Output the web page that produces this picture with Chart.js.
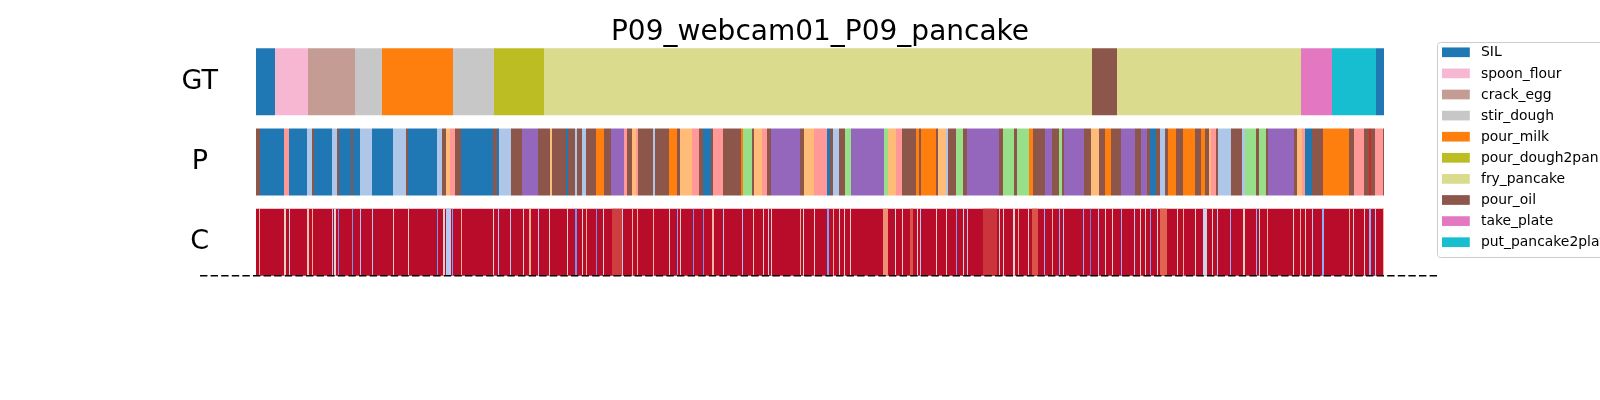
<!DOCTYPE html>
<html>
<head>
<meta charset="utf-8">
<title>P09_webcam01_P09_pancake</title>
<script src="https://cdn.jsdelivr.net/npm/chart.js@4.4.1/dist/chart.umd.min.js"></script>
<style>
  html, body { margin: 0; padding: 0; background: #fff; }
  #grafico { display: block; }
</style>
</head>
<body>
<canvas id="grafico" width="1600" height="400"></canvas>
<script>
// segmentacion del video: GT, prediccion (P) y confianza (C)

const titulo = 'P09_webcam01_P09_pancake';
const filas = ['GT', 'P', 'C'];
const totalFrames = 1128;

// clases de la leyenda (las del GT)
const clases = ['SIL', 'spoon_flour', 'crack_egg', 'stir_dough', 'pour_milk',
  'pour_dough2pan', 'fry_pancake', 'pour_oil', 'take_plate', 'put_pancake2plate'];
const coloresClases = ['#1f77b4', '#f7b6d2', '#c49c94', '#c7c7c7', '#ff7f0e',
  '#bcbd22', '#dbdb8d', '#8c564b', '#e377c2', '#17becf'];

// clases que solo aparecen en la prediccion (no salen en la leyenda)
const clasesExtra = ['otra_1', 'otra_2', 'otra_3', 'otra_4', 'otra_5', 'otra_6'];
const coloresExtra = ['#aec7e8', '#ff9896', '#ffbb78', '#9467bd', '#98df8a', '#d62728'];

// GT: etiqueta y frame final de cada segmento
const gtEtiquetas = ['SIL', 'spoon_flour', 'crack_egg', 'stir_dough', 'pour_milk', 'stir_dough',
  'pour_dough2pan', 'fry_pancake', 'pour_oil', 'fry_pancake', 'take_plate', 'put_pancake2plate', 'SIL'];
const gtFin = [19, 52, 99, 126, 197, 238, 288, 836, 861, 1045, 1076, 1120, 1128];

// P: codigos cortos -> clase
const codigos = { S: 'SIL', O: 'pour_oil', M: 'pour_milk', b: 'otra_1', r: 'otra_2',
  o: 'otra_3', p: 'otra_4', g: 'otra_5', R: 'otra_6' };
const pCodigos = ('OSrSbOSbOS' + 'OSbSbOSbOo' + 'rOSOSbOpOo' + 'OSObObOMOp' + 'rOorObOMOo' +
  'rOSOrOMgOo' + 'rOpOorSObO' + 'gpgorOMOMO' + 'obOgOpOgOg' + 'MOpOgOpOoO' +
  'MOpOpOSObO' + 'MOMOMOorOb' + 'ObgOgOpOor' + 'SOMOrOROrO').split('');
const pFin = [4, 28, 33, 51, 56, 58, 76, 81, 83, 95,
  97, 104, 116, 137, 150, 152, 181, 186, 190, 194,
  199, 205, 237, 241, 243, 255, 266, 282, 294, 296,
  310, 312, 319, 321, 326, 330, 340, 348, 355, 368,
  371, 376, 380, 382, 397, 399, 413, 421, 424, 436,
  443, 447, 455, 457, 467, 485, 487, 496, 498, 506,
  511, 515, 544, 548, 558, 571, 574, 577, 583, 589,
  595, 628, 632, 640, 646, 660, 663, 665, 680, 682,
  690, 692, 700, 707, 711, 743, 747, 758, 761, 773,
  777, 789, 796, 803, 806, 808, 828, 835, 843, 849,
  855, 865, 879, 885, 891, 894, 900, 904, 909, 912,
  920, 927, 939, 945, 949, 953, 955, 960, 962, 975,
  986, 989, 1000, 1003, 1010, 1012, 1038, 1041, 1046, 1049,
  1056, 1067, 1093, 1098, 1108, 1113, 1115, 1119, 1127, 1128];

// C: confianza base y caidas (inicio, fin, valor)
const confBase = 0.99;
const cInicio = [3, 28, 33, 51, 56, 76, 78, 82, 96, 104, 116, 137, 152, 181, 187, 190, 196, 205, 237, 242,
  254, 267, 273, 282, 293, 311, 319, 326, 330, 340, 347, 356, 366, 376, 381, 397, 413, 421, 424, 437,
  447, 456, 467, 486, 497, 507, 512, 515, 544, 547, 558, 571, 577, 583, 588, 594, 627, 639, 646, 654,
  661, 664, 680, 690, 700, 707, 711, 727, 743, 747, 757, 762, 772, 776, 788, 796, 803, 807, 827, 834,
  842, 849, 856, 865, 878, 884, 889, 894, 901, 904, 921, 927, 939, 947, 956, 961, 974, 987, 1000, 1003,
  1011, 1037, 1044, 1049, 1056, 1066, 1093, 1097, 1108, 1113, 1119, 1127];
const cFin = [4, 30, 34, 53, 57, 77, 80, 83, 97, 105, 117, 138, 153, 182, 189, 195, 197, 206, 238, 243,
  255, 268, 275, 283, 294, 312, 321, 327, 331, 341, 348, 367, 367, 377, 382, 398, 414, 422, 425, 438,
  448, 458, 468, 487, 498, 508, 513, 516, 545, 548, 559, 573, 578, 584, 589, 595, 632, 640, 647, 657,
  662, 665, 681, 691, 701, 708, 712, 741, 744, 748, 759, 763, 773, 782, 789, 797, 804, 808, 828, 835,
  843, 850, 857, 866, 879, 885, 890, 895, 902, 911, 922, 928, 940, 951, 957, 962, 975, 989, 1001, 1004,
  1012, 1038, 1045, 1050, 1057, 1068, 1094, 1098, 1109, 1115, 1120, 1128];
const cValor = [0.72, 0.58, 0.5, 0.65, 0.72, 0.38, 0.58, 0.2, 0.22, 0.38, 0.4, 0.62, 0.55, 0.22, 0.58, 0.4, 0.25, 0.72, 0.55, 0.38,
  0.4, 0.58, 0.72, 0.4, 0.58, 0.58, 0.2, 0.58, 0.72, 0.2, 0.55, 0.93, 0.45, 0.7, 0.72, 0.7, 0.6, 0.25, 0.6, 0.2,
  0.2, 0.7, 0.4, 0.35, 0.65, 0.6, 0.45, 0.6, 0.72, 0.52, 0.58, 0.25, 0.72, 0.55, 0.58, 0.58, 0.8, 0.55, 0.6, 0.9,
  0.55, 0.4, 0.6, 0.6, 0.25, 0.55, 0.4, 0.94, 0.6, 0.55, 0.55, 0.72, 0.55, 0.9, 0.3, 0.72, 0.3, 0.4, 0.3, 0.15,
  0.4, 0.58, 0.55, 0.3, 0.4, 0.58, 0.6, 0.25, 0.55, 0.88, 0.6, 0.72, 0.55, 0.45, 0.6, 0.4, 0.3, 0.6, 0.3, 0.55,
  0.72, 0.55, 0.72, 0.6, 0.4, 0.3, 0.72, 0.55, 0.6, 0.3, 0.4, 0.72];

// colormap coolwarm aproximado
const coolwarmPuntos = [[59, 76, 192], [92, 123, 229], [124, 159, 249], [170, 199, 253], [221, 220, 220],
  [242, 203, 183], [247, 168, 137], [226, 105, 82], [180, 4, 38]];
function coolwarm(v) {
  const t = Math.max(0, Math.min(1, v)) * (coolwarmPuntos.length - 1);
  const i = Math.min(Math.floor(t), coolwarmPuntos.length - 2);
  const f = t - i;
  const a = coolwarmPuntos[i], b = coolwarmPuntos[i + 1];
  const c = a.map((x, k) => Math.round(x + (b[k] - x) * f));
  return 'rgb(' + c.join(',') + ')';
}

const colorDe = {};
clases.forEach((c, i) => { colorDe[c] = coloresClases[i]; });
clasesExtra.forEach((c, i) => { colorDe[c] = coloresExtra[i]; });

// armar los datos para Chart.js (barras flotantes)
function segmentos(etiquetas, fines, fila) {
  let ini = 0;
  return etiquetas.map((et, i) => {
    const s = { x: [ini, fines[i]], y: fila, clase: et };
    ini = fines[i];
    return s;
  });
}
const datosGT = segmentos(gtEtiquetas, gtFin, 'GT');
const datosP = segmentos(pCodigos.map(k => codigos[k]), pFin, 'P');
const datosC = [{ x: [0, totalFrames], y: 'C', conf: confBase }]
  .concat(cInicio.map((s, i) => ({ x: [s, cFin[i]], y: 'C', conf: cValor[i] })));

// leyenda dibujada a mano (como la de matplotlib)
const leyenda = {
  id: 'leyenda',
  afterDraw(chart) {
    const c = chart.ctx;
    c.save();
    const x0 = 1437, y0 = 42, alto = 215;
    c.beginPath();
    c.roundRect(x0 + 0.5, y0 + 0.5, 200, alto, 3);
    c.fillStyle = 'rgba(255,255,255,0.8)';
    c.fill();
    c.strokeStyle = '#cccccc';
    c.lineWidth = 1;
    c.stroke();
    c.font = '13.9px "DejaVu Sans"';
    c.textBaseline = 'middle';
    c.textAlign = 'left';
    clases.forEach((nombre, i) => {
      const yc = 52.3 + i * 21.1;
      c.fillStyle = coloresClases[i];
      c.fillRect(1442, yc - 4.85, 27.8, 9.7);
      c.fillStyle = '#000';
      c.fillText(nombre, 1481, yc + 0.5);
    });
    c.restore();
  }
};

// linea discontinua bajo la fila C
const lineaBase = {
  id: 'lineaBase',
  afterDatasetsDraw(chart) {
    const c = chart.ctx;
    const y = chart.scales.y.getPixelForValue(2) + 33.5;
    c.save();
    c.strokeStyle = '#000';
    c.lineWidth = 1.5;
    c.setLineDash([7.4, 3.2]);
    c.beginPath();
    c.moveTo(200, y);
    c.lineTo(1439, y);
    c.stroke();
    c.restore();
  }
};

const ctx = document.getElementById('grafico').getContext('2d');
const grafico = new Chart(ctx, {
  type: 'bar',
  data: {
    labels: filas,
    datasets: [{
      label: 'segmentos',
      data: datosGT.concat(datosP, datosC),
      backgroundColor: (c) => {
        const r = c.raw;
        if (!r) return '#000';
        return r.conf !== undefined ? coolwarm(r.conf) : colorDe[r.clase];
      },
      borderWidth: 0,
      barThickness: 67,
      inflateAmount: 0
    }]
  },
  options: {
    indexAxis: 'y',
    responsive: false,
    animation: false,
    events: [],
    layout: { padding: { left: 0, right: 216, top: 0, bottom: 117.75 } },
    scales: {
      x: { type: 'linear', min: 0, max: totalFrames, display: false },
      y: {
        type: 'category',
        grid: { display: false },
        border: { display: false },
        ticks: {
          crossAlign: 'center',
          padding: 30,
          color: '#000',
          font: { family: 'DejaVu Sans', size: 27 }
        },
        afterFit: (s) => {
          s.width = 256;
          s.paddingTop = 0;
          s.paddingBottom = 0;
        }
      }
    },
    plugins: {
      legend: { display: false },
      tooltip: { enabled: false },
      title: {
        display: true,
        fullSize: false,
        text: titulo,
        color: '#000',
        font: { family: 'DejaVu Sans', size: 28, weight: 'normal', lineHeight: 0.64 },
        padding: { top: 23.6, bottom: 0 }
      }
    }
  },
  plugins: [lineaBase, leyenda]
});
</script>
</body>
</html>
